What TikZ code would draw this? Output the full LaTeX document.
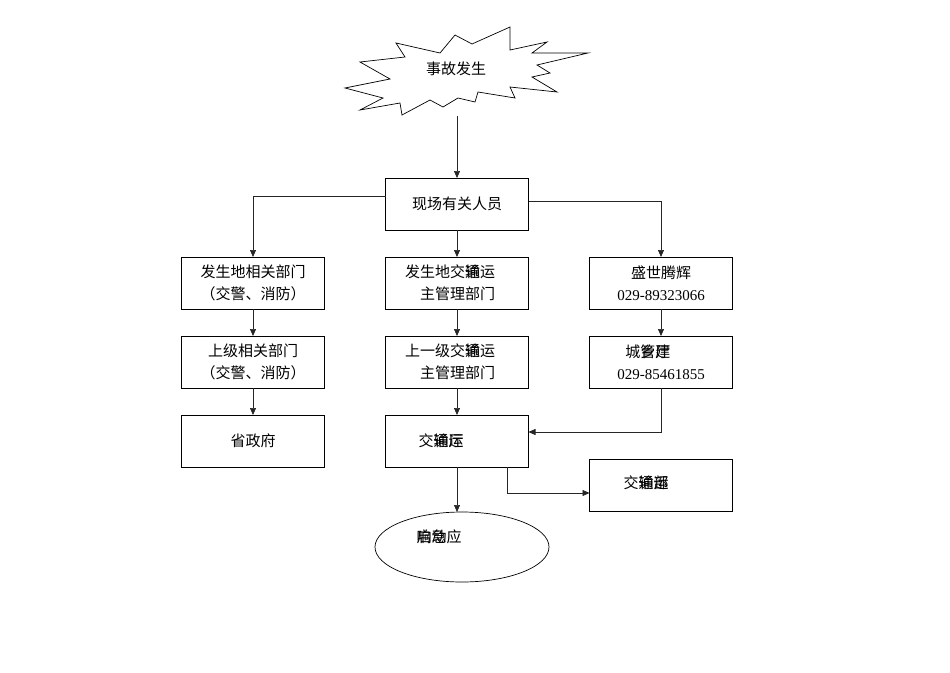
\documentclass[tikz,border=0pt]{standalone}
\usepackage{fontspec}
\setmainfont{Liberation Serif}
\newfontfamily\cjk{Noto Sans CJK SC}
\usetikzlibrary{shapes.geometric, arrows.meta, positioning}
\newcommand{\glyphover}[2]{\makebox[0pt][l]{#1}#2}

\begin{document}
\begin{tikzpicture}[
    x=1pt, y=-1pt,
    flow_box/.style={
        rectangle,
        draw=black,
        line width=0.7pt,
        minimum width=143pt,
        minimum height=52pt,
        inner sep=0pt,
        outer sep=0pt,
        align=center,
        font=\cjk\fontsize{15}{22}\selectfont
    },
    end_oval/.style={
        ellipse,
        draw=black,
        line width=0.7pt,
        minimum width=174pt,
        minimum height=70pt,
        inner sep=0pt,
        outer sep=0pt
    },
    box_text/.style={
        inner sep=0pt,
        font=\cjk\fontsize{15}{22}\selectfont
    },
    flow_arrow/.style={
        -{Triangle[length=7pt,width=6pt]},
        line width=0.7pt,
        draw=black!85
    }
]
\useasboundingbox (0,0) rectangle (950,672);

% Starburst: the accident
\draw[line width=0.7pt] (345,88) -- (390,79) -- (360,62) -- (405,57) -- (396,43)
    -- (440,53) -- (455,35) -- (472,44) -- (510,27) -- (510,50) -- (547,42)
    -- (532,53) -- (588,53) -- (537,65) -- (550,73) -- (532,77) -- (557,92)
    -- (510,87) -- (515,98) -- (478,92) -- (475,102) -- (458,98) -- (443,107)
    -- (430,100) -- (402,115) -- (400,103) -- (360,110) -- (383,98) -- cycle;
\node[box_text] (accident) at (456,69) {事故发生};
\coordinate (burst_tail) at (457,116);

% People on site
\node[flow_box] (onsite) at (457,204) {现场有关人员};

% Level 1: three branches
\node[flow_box, below=27pt of onsite] (local_traffic) {};
\node[box_text, align=right] (local_traffic_text) at ([xshift=-7pt]local_traffic.center) {
    发生地交\glyphover{通}{输}运\\
    主管理部门
};
\node[flow_box, left=61pt of local_traffic] (local_dept) {
    发生地相关部门\\
    （交警、消防）
};
\node[flow_box, right=61pt of local_traffic] (company) {
    盛世腾辉\\
    {\rmfamily 029-89323066}
};

% Level 2
\node[flow_box, below=27pt of local_traffic] (upper_traffic) {};
\node[box_text, align=right] (upper_traffic_text) at ([xshift=-7pt]upper_traffic.center) {
    上一级交\glyphover{通}{输}运\\
    主管理部门
};
\node[flow_box, below=27pt of local_dept] (upper_dept) {
    上级相关部门\\
    （交警、消防）
};
\node[flow_box, align=left, below=27pt of company] (city_office) {
    \hspace*{8pt}城\glyphover{乡}{管}\glyphover{建}{厅}\\
    {\rmfamily 029-85461855}
};

% Level 3
\node[flow_box, below=27pt of upper_dept] (province) {省政府};
\node[flow_box, below=27pt of upper_traffic] (transport) {};
\node[box_text] (transport_text) at ([xshift=-16pt]transport.center) {交\glyphover{通}{输}\glyphover{运}{厅}};
\node[flow_box, below right=-8pt and 61pt of transport] (ministry) {};
\node[box_text] (ministry_text) at ([xshift=-15pt, yshift=2pt]ministry.center) {交\glyphover{通}{输}\glyphover{运}{部}};

% Final: emergency response
\node[end_oval, below=45pt of transport, xshift=5pt] (response) {};
\node[box_text] (response_text) at ([xshift=-23pt, yshift=10pt]response.center) {\glyphover{启}{响}\glyphover{动}{急}应};

% Connectors
\draw[flow_arrow] (burst_tail) -- (onsite.north);
\draw[flow_arrow] ([yshift=8pt]onsite.west) -| (local_dept.north);
\draw[flow_arrow] ([yshift=3pt]onsite.east) -| (company.north);
\draw[flow_arrow] (onsite) -- (local_traffic);

\draw[flow_arrow] (local_dept) -- (upper_dept);
\draw[flow_arrow] (upper_dept) -- (province);

\draw[flow_arrow] (local_traffic) -- (upper_traffic);
\draw[flow_arrow] (upper_traffic) -- (transport);

\draw[flow_arrow] (company) -- (city_office);
\draw[flow_arrow] (city_office.south) |- ([yshift=9pt]transport.east);

\draw[flow_arrow] ([xshift=50pt]transport.south) |- ([yshift=-8pt]ministry.west);
\draw[flow_arrow] (transport.south) -- (transport.south |- response.north);

\end{tikzpicture}
\end{document}
